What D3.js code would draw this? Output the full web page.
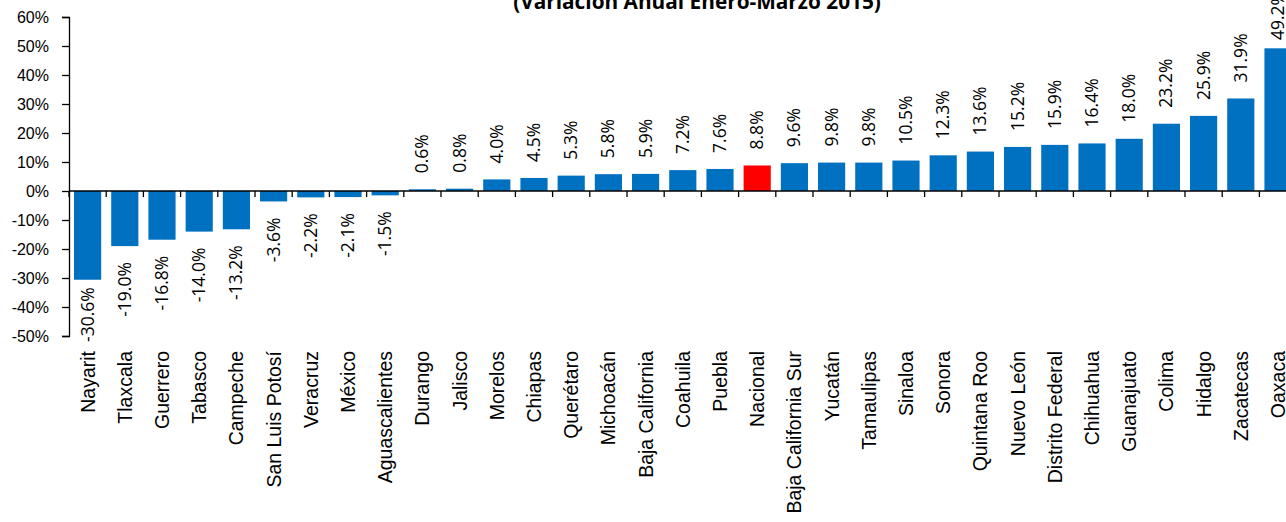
<!DOCTYPE html>
<html>
<head>
<meta charset="utf-8">
<script src="https://cdn.jsdelivr.net/npm/d3@7"></script>
<style>
  body { margin: 0; background: #fff; }
  svg { display: block; font-family: "Open Sans", "Noto Sans", sans-serif; }
</style>
</head>
<body>
<script>
// datos: variacion anual enero-marzo 2015 por entidad
var estados = ["Nayarit", "Tlaxcala", "Guerrero", "Tabasco", "Campeche", "San Luis Potosí",
  "Veracruz", "México", "Aguascalientes", "Durango", "Jalisco", "Morelos", "Chiapas",
  "Querétaro", "Michoacán", "Baja California", "Coahuila", "Puebla", "Nacional",
  "Baja California Sur", "Yucatán", "Tamaulipas", "Sinaloa", "Sonora", "Quintana Roo",
  "Nuevo León", "Distrito Federal", "Chihuahua", "Guanajuato", "Colima", "Hidalgo",
  "Zacatecas", "Oaxaca"];
var valores = [-30.6, -19.0, -16.8, -14.0, -13.2, -3.6, -2.2, -2.1, -1.5, 0.6, 0.8, 4.0, 4.5,
  5.3, 5.8, 5.9, 7.2, 7.6, 8.8, 9.6, 9.8, 9.8, 10.5, 12.3, 13.6, 15.2, 15.9, 16.4, 18.0,
  23.2, 25.9, 31.9, 49.2];
var yTicks = [-50, -40, -30, -20, -10, 0, 10, 20, 30, 40, 50, 60];
var titulo = "(Variación Anual Enero-Marzo 2015)";

var data = estados.map(function(d, i) { return {estado: d, valor: valores[i]}; });

var W = 1286, H = 522;
var margin = {left: 69, top: 17};
var plotW = 1227.6, plotH = 319;

var svg = d3.select("body").append("svg")
    .attr("width", W)
    .attr("height", H);

// escalas
var x = d3.scaleBand()
    .domain(estados)
    .range([margin.left, margin.left + plotW])
    .paddingInner(0.27)
    .paddingOuter(0.135);
var y = d3.scaleLinear()
    .domain([-50, 60])
    .range([margin.top + plotH, margin.top]);

// titulo (cortado arriba, como en el original)
svg.append("text")
    .attr("x", 697)
    .attr("y", 9)
    .attr("text-anchor", "middle")
    .style("font-weight", "bold")
    .style("font-size", "20.8px")
    .text(titulo);

// barras
svg.selectAll(".bar")
    .data(data)
  .enter().append("rect")
    .attr("class", "bar")
    .attr("x", function(d) { return x(d.estado); })
    .attr("y", function(d) { return y(Math.max(0, d.valor)); })
    .attr("width", x.bandwidth())
    .attr("height", function(d) { return Math.abs(y(d.valor) - y(0)); })
    .attr("fill", function(d) { return d.estado === "Nacional" ? "#FF0000" : "#0070C0"; });

// eje y
var yAxis = svg.append("g")
    .attr("transform", "translate(" + margin.left + ",0)")
    .call(d3.axisLeft(y).tickValues(yTicks)
      .tickFormat(function(d) { return d + "%"; })
      .tickSize(7).tickPadding(13));
yAxis.select(".domain").attr("stroke", "#000").attr("stroke-width", 1.3);
yAxis.selectAll(".tick line").attr("stroke", "#000").attr("stroke-width", 1.3);
yAxis.selectAll("text").style("font-size", "16px").attr("fill", "#000");

// linea del cero con marcas entre categorias
var y0 = y(0);
svg.append("line")
    .attr("x1", margin.left).attr("x2", margin.left + plotW)
    .attr("y1", y0).attr("y2", y0)
    .attr("stroke", "#000").attr("stroke-width", 1.3);
var bordes = estados.map(function(d) { return x(d) - x.step() * x.paddingInner() / 2; });
bordes.push(margin.left + plotW);
svg.selectAll(".xtick")
    .data(bordes)
  .enter().append("line")
    .attr("class", "xtick")
    .attr("x1", function(d) { return d; }).attr("x2", function(d) { return d; })
    .attr("y1", y0).attr("y2", y0 + 6)
    .attr("stroke", "#000").attr("stroke-width", 1.3);

// etiquetas de categorias (rotadas)
var xAxis = svg.append("g")
    .attr("transform", "translate(0,351)")
    .call(d3.axisBottom(x).tickSize(0).tickPadding(0));
xAxis.select(".domain").remove();
xAxis.selectAll("text")
    .attr("transform", "rotate(-90)")
    .attr("text-anchor", "end")
    .attr("x", 0)
    .attr("y", 7)
    .attr("dy", 0)
    .attr("fill", "#000")
    .style("font-size", "19.5px");

// etiquetas de valores
var gap = 16;
svg.selectAll(".valor")
    .data(data)
  .enter().append("text")
    .attr("class", "valor")
    .style("font-size", "17.5px")
    .attr("fill", "#000")
    .text(function(d) { return d.valor.toFixed(1) + "%"; })
    .each(function(d) {
      var t = d3.select(this);
      var len = this.getComputedTextLength();
      var cx = x(d.estado) + x.bandwidth() / 2 + 6;
      var pos;
      if (d.valor >= 0) {
        pos = Math.max(y(d.valor) - gap, 40);
        t.attr("text-anchor", "start");
      } else {
        var top = y(d.valor) + gap;
        if (top + len > 342) top = 342 - len;
        pos = top;
        t.attr("text-anchor", "end");
      }
      t.attr("transform", "translate(" + cx + "," + pos + ") rotate(-90)");
    });
</script>
</body>
</html>
